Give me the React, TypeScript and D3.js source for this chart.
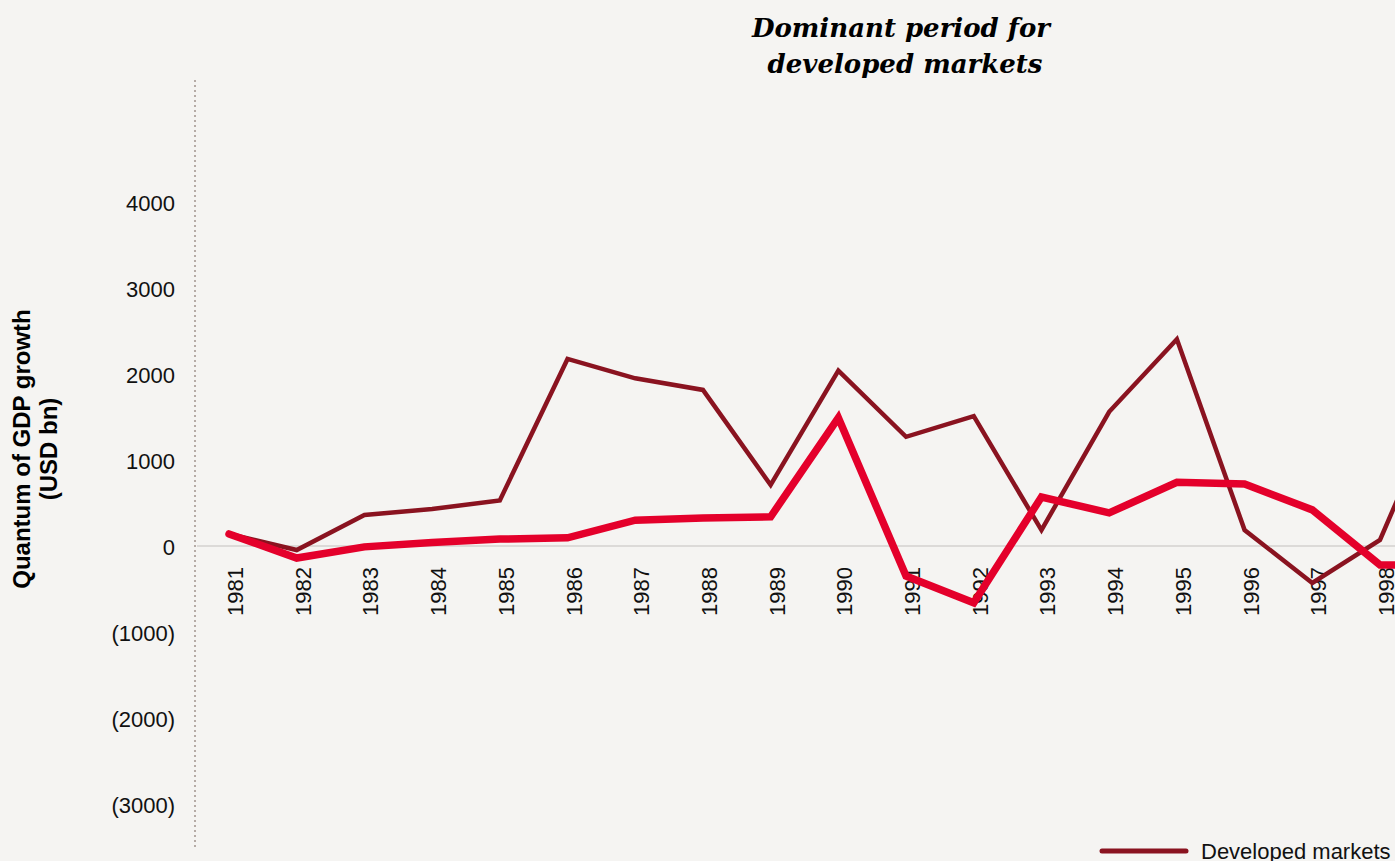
import React from 'react';
import {scaleLinear, line} from "d3";

const width = 1395;
const height = 861;

// years on the x axis (the chart is cut off on the right after 1998)
const years = [1981, 1982, 1983, 1984, 1985, 1986, 1987, 1988, 1989, 1990,
  1991, 1992, 1993, 1994, 1995, 1996, 1997, 1998, 1999];
const developed = [140, -47, 360, 430, 530, 2175, 1950, 1815, 710, 2040,
  1270, 1510, 185, 1560, 2405, 185, -430, 70, 1900];
const emerging = [140, -140, -10, 40, 80, 95, 300, 325, 340, 1490,
  -350, -660, 570, 385, 740, 720, 420, -220, -220];
const yTicks = [4000, 3000, 2000, 1000, 0, -1000, -2000, -3000];

const bg = "#F5F4F2";
const darkRed = "#8A1320";
const brightRed = "#E4002B";
const sans = "'Liberation Sans', Arial, sans-serif";

const fmt = (v: number) => v < 0 ? `(${Math.abs(v)})` : `${v}`;

export default function App() {
  const x = scaleLinear().domain([1981, 1998]).range([229, 1380]);
  const y = scaleLinear().domain([-3000, 4000]).range([804, 202]);

  const path = line<number>()
    .x((d, i) => x(years[i]))
    .y(d => y(d));

  return (
    <svg width={width} height={height} style={{position: "absolute", left: 0, top: 0, display: "block"}}>
      <rect width={width} height={height} fill={bg}/>

      {/* title */}
      <text x={901} y={37} textAnchor="middle" fontFamily="'DejaVu Serif', serif" fontStyle="italic"
            fontWeight="bold" fontSize={26}>Dominant period for</text>
      <text x={905} y={73} textAnchor="middle" fontFamily="'DejaVu Serif', serif" fontStyle="italic"
            fontWeight="bold" fontSize={26}>developed markets</text>

      {/* y axis */}
      <line x1={195} x2={195} y1={80} y2={850} stroke="#B5ABA6" strokeWidth={2} strokeDasharray="2 3"/>
      {yTicks.map(t => (
        <text key={t} x={175} y={y(t)} dy="0.42em" textAnchor="end" fontFamily={sans} fontSize={22}
              fill="#111">{fmt(t)}</text>
      ))}
      <g transform="translate(22,449) rotate(-90)">
        <text textAnchor="middle" dy="0.35em" fontFamily={sans} fontWeight="bold" fontSize={24}>Quantum of GDP growth</text>
        <text y={27} textAnchor="middle" dy="0.35em" fontFamily={sans} fontWeight="bold" fontSize={24}>(USD bn)</text>
      </g>

      {/* zero line */}
      <line x1={197} x2={width} y1={y(0)} y2={y(0)} stroke="#DCDAD8" strokeWidth={2}/>

      {/* x labels */}
      {years.map(yr => (
        <text key={yr} transform={`translate(${x(yr) + 14},567) rotate(-90)`} textAnchor="end"
              fontFamily={sans} fontSize={22} fill="#111">{yr}</text>
      ))}

      <path d={path(developed) as string} fill="none" stroke={darkRed} strokeWidth={4.5} strokeLinejoin="miter"/>
      <path d={path(emerging) as string} fill="none" stroke={brightRed} strokeWidth={7.5} strokeLinejoin="miter"
            strokeLinecap="round"/>

      {/* legend */}
      <line x1={1102} x2={1186} y1={851} y2={851} stroke={darkRed} strokeWidth={5} strokeLinecap="round"/>
      <text x={1201} y={859} fontFamily={sans} fontSize={22} fill="#111">Developed markets</text>
    </svg>
  )
}
